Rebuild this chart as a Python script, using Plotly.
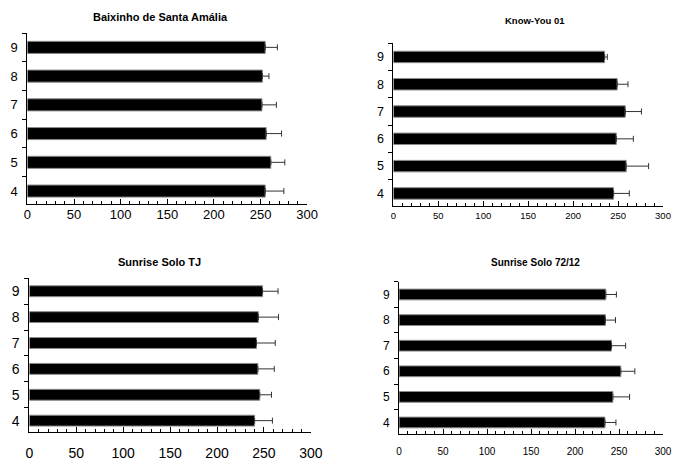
import plotly.graph_objects as go

categories = ["4", "5", "6", "7", "8", "9"]

titles = ["Baixinho de Santa Amália", "Know-You 01", "Sunrise Solo TJ", "Sunrise Solo 72/12"]

# mean values (bars) for categories 4..9
baixinho = [255, 261, 256, 251.5, 252, 255]
knowyou = [245, 259, 248, 258, 249, 235]
sunrise_tj = [240, 245.5, 243.5, 242, 244, 248.5]
sunrise_72 = [234, 243, 252, 241.5, 234.5, 235]

# upper error (plus) values
baixinho_err = [20, 15, 16.5, 15.5, 7, 13]
knowyou_err = [17.5, 25, 19, 18, 12, 3]
sunrise_tj_err = [19, 12.5, 17.5, 20, 21.5, 16.5]
sunrise_72_err = [12.5, 19, 16, 16, 11.5, 12]

series = [baixinho, knowyou, sunrise_tj, sunrise_72]
errors = [baixinho_err, knowyou_err, sunrise_tj_err, sunrise_72_err]

W, H = 675, 461


def fx(p):
    # horizontal pixel -> paper fraction (compensates observed horizontal offset/scale)
    return min(1.0, max(0.0, (p - 3.6) / 0.977 / W))


# pixel boxes: x0, x1, ytop, ybottom
boxes = [(27, 307, 33, 204), (393.3, 668.3, 43.3, 205.7), (29, 310.7, 278.3, 432.3), (399, 664.3, 281.7, 434)]
title_pos = [(160, 17), (535, 20.7), (159, 261.7), (535, 262.3)]
REG = "Liberation Sans, Arial, sans-serif"
fonts = [
    dict(title=11, x=13, y=13, xs=-2),
    dict(title=9.5, x=9.5, y=12.5, xs=1),
    dict(title=11, x=14, y=14, xs=8),
    dict(title=10, x=10, y=12, xs=8),
]

fig = go.Figure()
layout = dict(width=W, height=H, autosize=False, margin=dict(l=0, r=0, t=0, b=0, pad=0),
              paper_bgcolor="white", plot_bgcolor="white", showlegend=False,
              bargap=0.58)
annotations = []
for i in range(4):
    sfx = "" if i == 0 else str(i + 1)
    x0, x1, yt, yb = boxes[i]
    fig.add_trace(go.Bar(
        x=series[i], y=categories, orientation="h",
        xaxis="x" + sfx, yaxis="y" + sfx,
        width=0.42,
        marker=dict(color="black", line=dict(color="#8a8a8a", width=1)),
        error_x=dict(type="data", symmetric=False, array=errors[i],
                     arrayminus=[0] * 6, color="#333333", thickness=1, width=3),
    ))
    f = fonts[i]
    layout["xaxis" + sfx] = dict(
        domain=[fx(x0), fx(x1)], anchor="y" + sfx, range=[0, 300],
        dtick=50, tick0=0, ticks="inside", ticklen=5, tickcolor="black",
        showline=True, linecolor="black", linewidth=1, showgrid=False,
        zeroline=False, tickfont=dict(family=REG, size=f["x"], color="black"),
        ticklabelstandoff=f["xs"],
        minor=dict(dtick=10, ticks="inside", ticklen=3, tickcolor="black", showgrid=False),
    )
    layout["yaxis" + sfx] = dict(
        domain=[1 - yb / H, 1 - yt / H], anchor="x" + sfx, type="category",
        range=[-0.45, 5.5], tickson="boundaries", ticks="outside", ticklen=4,
        tickcolor="black", showline=True, linecolor="black", linewidth=1,
        showgrid=False, zeroline=False, ticklabelstandoff=6,
        tickfont=dict(family=REG, size=f["y"], color="black"),
    )
    tx, ty = title_pos[i]
    annotations.append(dict(text="<b>" + titles[i] + "</b>", x=fx(tx), y=1 - ty / H,
                            xref="paper", yref="paper", showarrow=False,
                            xanchor="center", yanchor="middle",
                            font=dict(family=REG, size=f["title"], color="black")))
layout["annotations"] = annotations
fig.update_layout(**layout)
fig.write_html("out.html", config={"responsive": False, "displayModeBar": False},
               post_script="document.body.style.margin='0';document.body.style.overflow='hidden';")
